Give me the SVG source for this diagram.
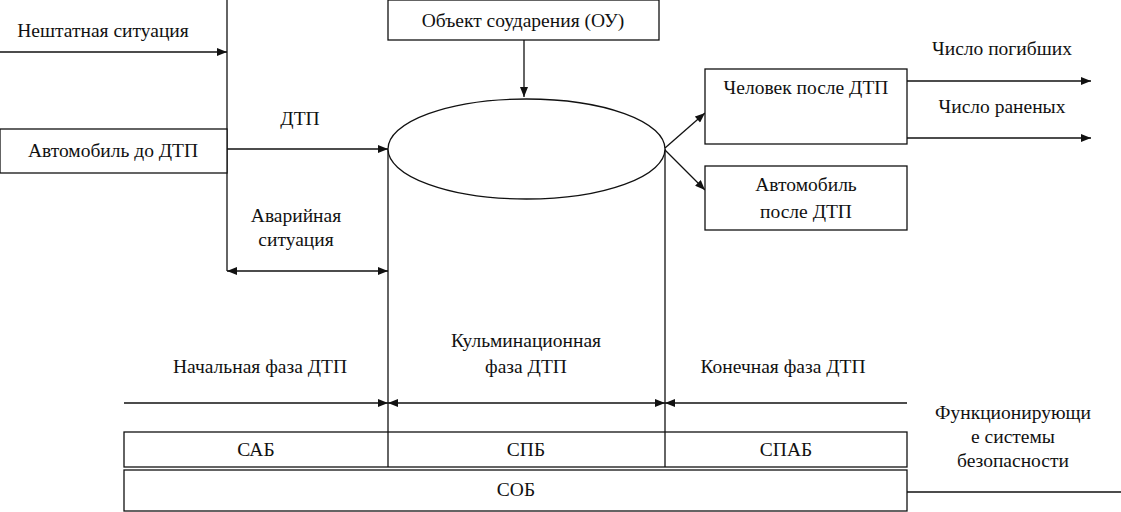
<svg xmlns="http://www.w3.org/2000/svg" width="1121" height="512" viewBox="0 0 1121 512">
<style>
text{font-family:'Liberation Serif','Times New Roman',serif;font-size:19.5px;fill:#111;text-anchor:middle}
.b{fill:#fff;stroke:#111;stroke-width:1.3}
.l{fill:none;stroke:#111;stroke-width:1.3}
</style>
<defs>
<marker id="ah" viewBox="0 0 10 8" refX="10" refY="4" markerWidth="11" markerHeight="8" markerUnits="userSpaceOnUse" orient="auto-start-reverse">
<path d="M0,0 L10,4 L0,8 Z" fill="#111"/>
</marker>
</defs>
<rect width="1121" height="512" fill="#fff"/>
<g id="connectors">
<line class="l" x1="227" y1="0" x2="227" y2="271"/>
<line class="l" x1="0" y1="52" x2="227" y2="52" marker-end="url(#ah)"/>
<line class="l" x1="227" y1="149" x2="388" y2="149" marker-end="url(#ah)"/>
<line class="l" x1="227" y1="271" x2="388" y2="271" marker-start="url(#ah)" marker-end="url(#ah)"/>
<line class="l" x1="524" y1="40" x2="524" y2="97" marker-end="url(#ah)"/>
<line class="l" x1="388" y1="149" x2="388" y2="467"/>
<line class="l" x1="665" y1="149" x2="665" y2="467"/>
<line class="l" x1="665" y1="148" x2="705" y2="113" marker-end="url(#ah)"/>
<line class="l" x1="665" y1="150" x2="705" y2="190" marker-end="url(#ah)"/>
<line class="l" x1="907" y1="81" x2="1091" y2="81" marker-end="url(#ah)"/>
<line class="l" x1="907" y1="138" x2="1091" y2="138" marker-end="url(#ah)"/>
<line class="l" x1="124" y1="403" x2="388" y2="403" marker-end="url(#ah)"/>
<line class="l" x1="388" y1="403" x2="665" y2="403" marker-start="url(#ah)" marker-end="url(#ah)"/>
<line class="l" x1="907" y1="403" x2="665" y2="403" marker-end="url(#ah)"/>
<line class="l" x1="907" y1="492" x2="1121" y2="492"/>
</g>
<g id="label-nesht"><text x="103" y="37">Нештатная ситуация</text></g>
<g id="label-dtp"><text x="300" y="125">ДТП</text></g>
<g id="label-avar"><text x="296" y="222">Аварийная</text><text x="296" y="246">ситуация</text></g>
<g id="node-avto-do"><rect class="b" x="0" y="129" width="227" height="44"/><text x="113" y="157">Автомобиль до ДТП</text></g>
<g id="node-ou"><rect class="b" x="388" y="0" width="271" height="40"/><text x="523" y="27">Объект соударения (ОУ)</text></g>
<g id="node-ellipse"><ellipse class="b" cx="526.5" cy="149" rx="138.5" ry="50"/></g>
<g id="node-chelovek"><rect class="b" x="705" y="69" width="202" height="75"/><text x="806" y="94">Человек после ДТП</text></g>
<g id="node-avto-posle"><rect class="b" x="705" y="166" width="202" height="64"/><text x="806" y="191">Автомобиль</text><text x="806" y="218">после ДТП</text></g>
<g id="label-pogib"><text x="1002" y="55">Число погибших</text></g>
<g id="label-ranen"><text x="1002" y="113">Число раненых</text></g>
<g id="label-nach"><text x="260" y="373">Начальная фаза ДТП</text></g>
<g id="label-kulm"><text x="526" y="347">Кульминационная</text><text x="526" y="373">фаза ДТП</text></g>
<g id="label-kon"><text x="783" y="373">Конечная фаза ДТП</text></g>
<g id="node-row1"><rect class="b" x="124" y="432" width="783" height="35"/>
<line class="l" x1="388" y1="432" x2="388" y2="467"/><line class="l" x1="665" y1="432" x2="665" y2="467"/>
<text x="256" y="456">САБ</text><text x="526" y="456">СПБ</text><text x="786" y="456">СПАБ</text></g>
<g id="node-sob"><rect class="b" x="124" y="470" width="783" height="41"/><text x="516" y="496">СОБ</text></g>
<g id="label-func"><text x="1013" y="419">Функционирующи</text><text x="1013" y="443">е системы</text><text x="1013" y="467">безопасности</text></g>
</svg>
